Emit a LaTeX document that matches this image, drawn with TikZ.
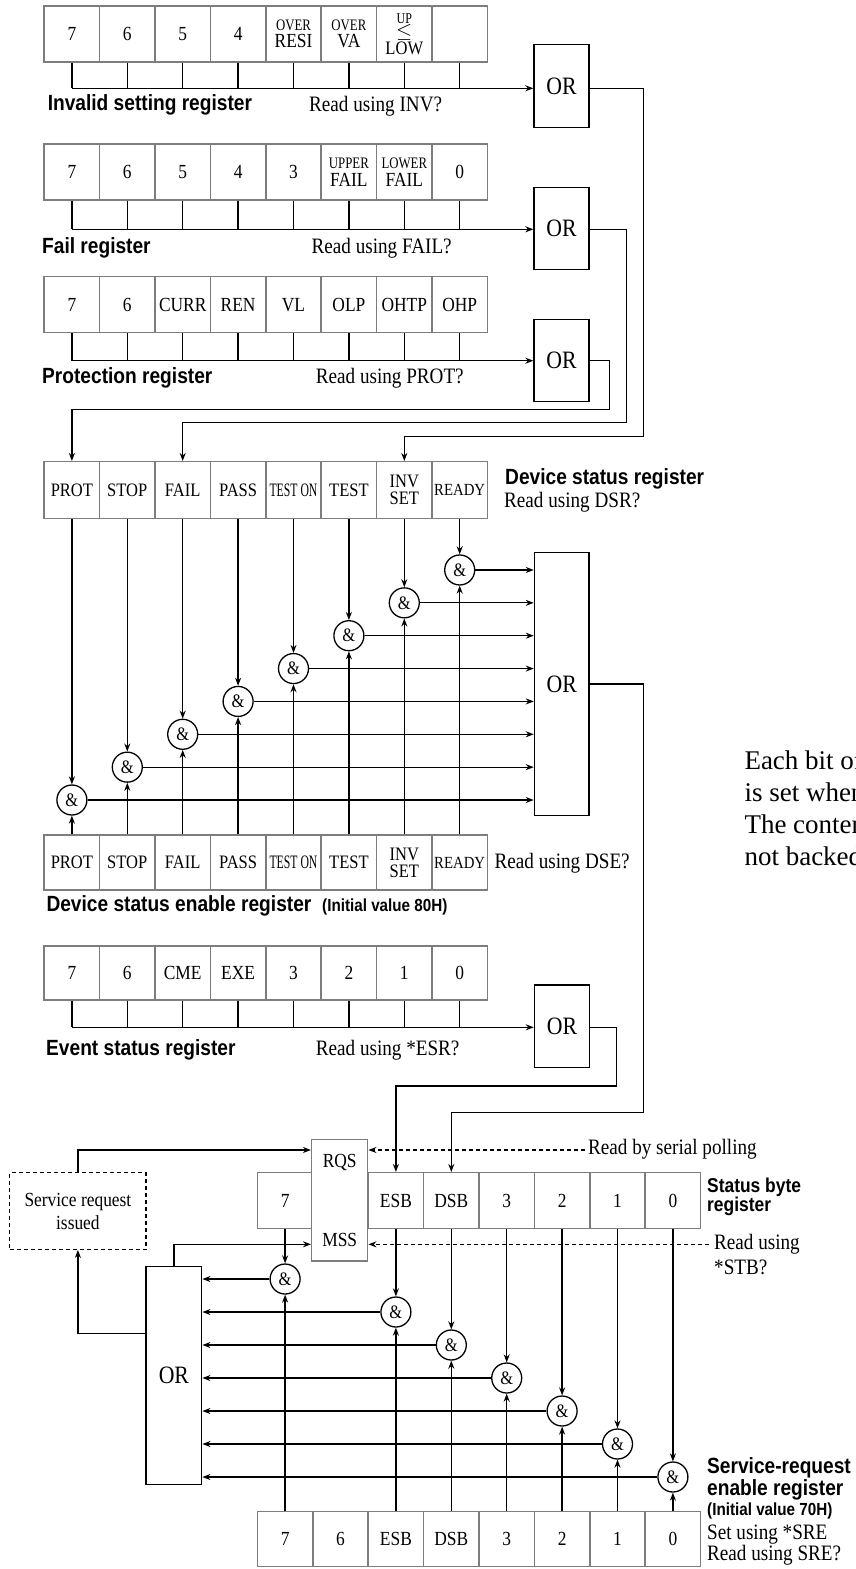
\documentclass[tikz,border=0pt]{standalone}
\usepackage{fontspec}
\usepackage{graphicx}
\setmainfont{Liberation Serif}
\newfontfamily\rs{Liberation Serif}[FakeStretch=0.87]
\newfontfamily\rsc{Liberation Serif}[FakeStretch=0.8]
\newfontfamily\ls{Liberation Sans}[FakeStretch=0.87]
\usetikzlibrary{arrows.meta}
\definecolor{regc}{RGB}{125,125,125}
\newcommand\fsz[1]{\fontsize{#1}{#1}\selectfont}
\newcommand\fszb[2]{\fontsize{#1}{#2}\selectfont}
\begin{document}
\begin{tikzpicture}[x=1pt,y=-1pt,
  cell/.style={draw=regc, line width=1.5pt, minimum width=55.4pt, minimum height=56pt, inner sep=0pt, font=\rs\fsz{20}, align=center},
  orbox/.style={draw, line width=1.3pt, inner sep=0pt, font=\rs\fsz{25}},
  gate/.style={circle, draw, line width=1.3pt, minimum size=30pt, inner sep=0pt, font=\rs\fsz{19}, fill=white},
  wire/.style={line width=1.3pt},
  arr/.style={wire, -{Stealth[length=8pt,width=6pt]}},
  darr/.style={line width=1.2pt, dash pattern=on 4pt off 3pt, -{Stealth[length=8pt,width=6pt]}},
  lab/.style={font=\ls\bfseries\fsz{22}, anchor=base west, inner sep=0pt},
  slab/.style={font=\ls\bfseries\fsz{17.5}, anchor=base west, inner sep=0pt},
  rd/.style={font=\rs\fsz{22}, anchor=base west, inner sep=0pt}
]
\useasboundingbox (0,0) rectangle (855,1569);

% ---------- Invalid setting register ----------
\foreach \t [count=\i from 0] in {7,6,5,4,{\rsc\fsz{16}OVER\\[-3pt]RESI},{\rsc\fsz{16}OVER\\[-3pt]VA},{\rsc\fsz{15}UP\\[-6pt]$\leq$\\[-3pt]\fsz{19}LOW},{}}
  \node[cell] (a\i) at ({71.9+55.4*\i},34) {\t};
\coordinate (b1) at (0,88.3);
\node[orbox, minimum width=55pt, minimum height=83pt] (or1) at (561.5,86) {OR};
\foreach \i in {0,...,7} \draw[wire] (a\i.south) -- (a\i.south |- b1);
\draw[arr] (a0.south |- b1) -- (or1.west |- b1);
\node[lab] (l1) at (47.6,110) {Invalid setting register};
\node[rd] (q1) at (309,111) {Read using INV?};

% ---------- Fail register ----------
\foreach \t [count=\i from 0] in {7,6,5,4,3,{\rsc\fsz{16}UPPER\\[-2pt]FAIL},{\rsc\fsz{16}LOWER\\[-2pt]FAIL},0}
  \node[cell] (f\i) at ({71.9+55.4*\i},172) {\t};
\coordinate (b2) at (0,229.3);
\node[orbox, minimum width=55pt, minimum height=82pt] (or2) at (561.5,228.5) {OR};
\foreach \i in {0,...,7} \draw[wire] (f\i.south) -- (f\i.south |- b2);
\draw[arr] (f0.south |- b2) -- (or2.west |- b2);
\node[lab] (l2) at (42,253) {Fail register};
\node[rd] (q2) at (311.5,253) {Read using FAIL?};

% ---------- Protection register ----------
\foreach \t [count=\i from 0] in {7,6,CURR,REN,VL,OLP,OHTP,OHP}
  \node[cell] (p\i) at ({71.9+55.4*\i},304.7) {\t};
\coordinate (b3) at (0,360.7);
\node[orbox, minimum width=55pt, minimum height=82pt] (or3) at (561.5,360.5) {OR};
\foreach \i in {0,...,7} \draw[wire] (p\i.south) -- (p\i.south |- b3);
\draw[arr] (p0.south |- b3) -- (or3.west |- b3);
\node[lab] (l3) at (42,383) {Protection register};
\node[rd] (q3) at (315.7,383) {Read using PROT?};

% ---------- Device status register ----------
\foreach \t [count=\i from 0] in {PROT,STOP,FAIL,PASS,{\scalebox{0.71}[1]{TEST ON}},TEST,{INV\\[-2pt]SET},{\fsz{17}READY}}
  \node[cell, font=\rs\fsz{19}, minimum height=56.6pt] (d\i) at ({71.9+55.4*\i},490) {\t};
\node[lab] (l4) at (505,484.3) {Device status register};
\node[rd] (q4) at (504,507) {Read using DSR?};

% routes from the three OR gates
\draw[arr] (or1.east |- b1) -| (643.3,436.7) -| (d6.north);
\draw[arr] (or2.east |- b2) -| (626.7,422.7) -| (d2.north);
\draw[arr] (or3.east |- b3) -| (609.3,409.3) -| (d0.north);

% ---------- Device status enable register ----------
\foreach \t [count=\i from 0] in {PROT,STOP,FAIL,PASS,{\scalebox{0.71}[1]{TEST ON}},TEST,{INV\\[-2pt]SET},{\fsz{17}READY}}
  \node[cell, font=\rs\fsz{19}, minimum height=55pt] (e\i) at ({71.9+55.4*\i},862.5) {\t};
\node[rd] (q5) at (494.5,868) {Read using DSE?};
\node[lab] (l5) at (46.3,911) {Device status enable register};
\node[slab] (l5b) at (322,911) {(Initial value 80H)};

% big OR and gates
\node[orbox, minimum width=54.6pt, minimum height=262.6pt] (bor) at (561.7,684) {OR};
\foreach \i in {0,...,7} {
  \node[gate] (g\i) at ({71.9+55.4*\i},{800-32.86*\i}) {\&};
  \draw[arr] (d\i.south) -- (g\i.north);
  \draw[arr] (e\i.north) -- (g\i.south);
  \draw[arr] (g\i.east) -- (g\i.east -| bor.west);
}

% ---------- Event status register ----------
\foreach \t [count=\i from 0] in {7,6,CME,EXE,3,2,1,0}
  \node[cell, minimum height=54.3pt] (s\i) at ({71.9+55.4*\i},973) {\t};
\coordinate (b4) at (0,1027.3);
\node[orbox, minimum width=55pt, minimum height=82.7pt] (or4) at (561.9,1026.3) {OR};
\foreach \i in {0,...,7} \draw[wire] (s\i.south) -- (s\i.south |- b4);
\draw[arr] (s0.south |- b4) -- (or4.west |- b4);
\node[lab] (l6) at (46,1055) {Event status register};
\node[rd] (q6) at (315.7,1055) {Read using *ESR?};

% ---------- Status byte register ----------
\foreach \t [count=\i from 0] in {7,{},ESB,DSB,3,2,1,0}
  \node[cell, minimum height=55.6pt] (sb\i) at ({285.1+55.4*\i},1200.5) {\t};
\node[draw=regc, line width=1.5pt, fill=white, minimum width=56pt, minimum height=121.7pt, inner sep=0pt] (rq) at (339.7,1200.2) {};
\node[font=\rs\fsz{20}, inner sep=0pt] (rqs) at (339.7,1162.7) {RQS};
\node[font=\rs\fsz{20}, inner sep=0pt] (mss) at (339.7,1240) {MSS};
\node[font=\ls\bfseries\fsz{20}, anchor=base west, inner sep=0pt] (l7a) at (707,1192) {Status byte};
\node[font=\ls\bfseries\fsz{20}, anchor=base west, inner sep=0pt] (l7b) at (707,1211) {register};

\draw[arr] (or4.east |- b4) -| (616.6,1086) -| (sb2.north);
\draw[arr] (bor.east) -| (643.4,1112.3) -| (sb3.north);

\coordinate (yr) at (0,1150);
\coordinate (ym) at (0,1244.3);
\coordinate (yo) at (0,1333.3);
\node[rd] (rbsp) at (588,1154) {Read by serial polling};
\node[rd] (ru) at (714,1249.3) {Read using};
\node[rd] (stb) at (714,1274.3) {*STB?};
\draw[darr] ([xshift=-3pt]rbsp.west |- yr) -- (rq.east |- yr);
\draw[darr] ([xshift=-5pt]ru.west |- ym) -- (rq.east |- ym);

% service request issued
\node[draw, line width=1.2pt, dash pattern=on 4pt off 3pt, minimum width=136.2pt, minimum height=76.6pt, align=center, font=\rs\fszb{20}{23}, inner sep=0pt] (sr) at (77.9,1211) {Service request\\issued};
\node[orbox, minimum width=55.7pt, minimum height=217.6pt] (lor) at (173.9,1375.5) {OR};
\draw[arr] (sr.north) |- (rq.west |- yr);
\draw[arr] (lor.north) |- (rq.west |- ym);
\draw[arr] (lor.west |- yo) -| (sr.south);

% ---------- Service request enable register ----------
\foreach \t [count=\i from 0] in {7,6,ESB,DSB,3,2,1,0}
  \node[cell, minimum height=55pt] (re\i) at ({285.1+55.4*\i},1539.2) {\t};
\foreach \i/\y in {0/1279,2/1312,3/1345,4/1378,5/1411,6/1444,7/1477} {
  \node[gate] (h\i) at ({285.1+55.4*\i},\y) {\&};
  \draw[arr] (sb\i.south) -- (h\i.north);
  \draw[arr] (re\i.north) -- (h\i.south);
  \draw[arr] (h\i.west) -- (h\i.west -| lor.east);
}
\node[lab] (l8a) at (707,1473.3) {Service-request};
\node[lab] (l8b) at (707,1495) {enable register};
\node[slab] (l8c) at (707,1515) {(Initial value 70H)};
\node[rd] (l8d) at (707,1539) {Set using *SRE};
\node[rd] (l8e) at (707,1560) {Read using SRE?};

% ---------- side note (cut off at the right edge, as in the source) ----------
\begin{scope}
\clip (0,0) rectangle (855,1569);
\node[font=\rmfamily\fsz{27}, anchor=base west, inner sep=0pt] (n1) at (744.3,769.3) {Each bit of};
\node[font=\rmfamily\fsz{27}, anchor=base west, inner sep=0pt] (n2) at (744.3,801) {is set when};
\node[font=\rmfamily\fsz{27}, anchor=base west, inner sep=0pt] (n3) at (744.3,833) {The content};
\node[font=\rmfamily\fsz{27}, anchor=base west, inner sep=0pt] (n4) at (744.3,865.7) {not backed};
\end{scope}
\end{tikzpicture}
\end{document}
